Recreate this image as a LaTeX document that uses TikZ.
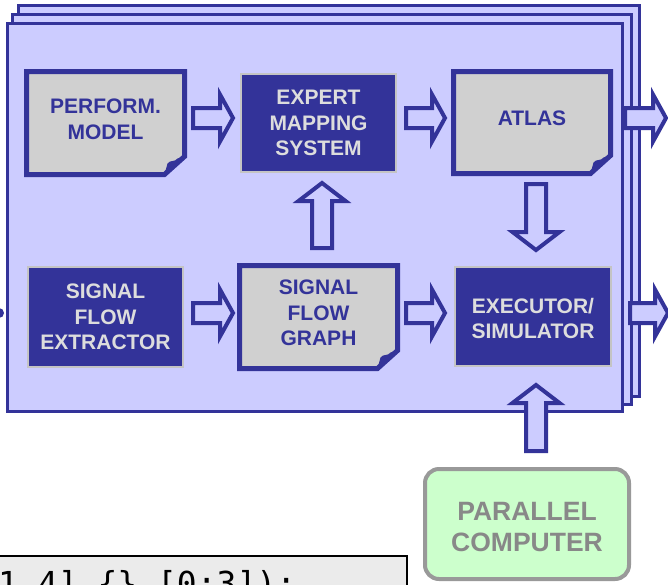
\documentclass[tikz,border=0pt]{standalone}
\usepackage{fontspec}
\setmainfont{Liberation Sans}
\newfontfamily\codefont{DejaVu Sans Mono}
\usetikzlibrary{calc}
\definecolor{dblue}{HTML}{333399}
\definecolor{lblue}{HTML}{CCCCFF}
\definecolor{docgray}{HTML}{D0D0D0}
\definecolor{boxgray}{HTML}{C4C4C4}
\definecolor{ltext}{HTML}{DDDDDD}
\definecolor{lgreen}{HTML}{CCFFCC}
\definecolor{pcgray}{HTML}{999999}
\definecolor{pctext}{HTML}{888888}
\definecolor{codegray}{HTML}{EBEBEB}
\newcommand{\docoutline}[1]{%
  \filldraw[fill=docgray,draw=dblue,line width=5,line join=miter]
    (#1.north west) -- (#1.north east) -- ($(#1.south east)+(0,-18)$)
    -- ($(#1.south east)+(-20,0)$) -- (#1.south west) -- cycle;
  \fill[dblue] ($(#1.south east)+(-20,0)$) -- ($(#1.south east)+(-17,-11)$)
    .. controls ($(#1.south east)+(-14,-15)$) and ($(#1.south east)+(-10,-12)$) .. ($(#1.south east)+(-7,-16)$)
    -- ($(#1.south east)+(0,-18)$) -- cycle;
}
\tikzset{
  frame/.style={fill=lblue,draw=dblue,line width=3},
  boxtext/.style={font=\fontsize{21}{25.5}\selectfont\bfseries,align=center,outer sep=0,inner sep=0},
  darkbox/.style={boxtext,fill=dblue,draw=boxgray,line width=2,text=ltext},
  docbox/.style={boxtext,draw=none,text=dblue},
  pcbox/.style={font=\fontsize{26.5}{31}\selectfont\bfseries,align=center,outer sep=0,inner sep=0,
    fill=lgreen,draw=pcgray,line width=4,rounded corners=14,text=pctext},
  pics/barrow/.style 2 args={code={
    \filldraw[fill=lblue,draw=dblue,line width=4,line join=miter]
      (0,-10) -- ({#1-#2},-10) -- ({#1-#2},-23.5) -- (#1,0) -- ({#1-#2},23.5)
      -- ({#1-#2},10) -- (0,10) -- cycle;
  }}
}
\begin{document}
\begin{tikzpicture}[x=1pt,y=-1pt]
\useasboundingbox (0,0) rectangle (668,584);
\clip (0,0) rectangle (668,584);
\fill[white] (0,0) rectangle (668,584);
% stacked frames
\draw[frame] (18.5,5.5) rectangle (639,396);
\draw[frame] (12.5,14.5) rectangle (631,404.5);
\draw[frame] (7.5,23) rectangle (622.5,411.5);
% incoming arrow tip at left edge
\fill[dblue] (-1,313) circle (5);
% boxes
\node[docbox,minimum width=158,minimum height=103] (pm) at (105.5,123) {PERFORM.\\MODEL\rule[-8pt]{0pt}{8pt}};
\node[darkbox,minimum width=155,minimum height=98] (ems) at (318.5,123) {EXPERT\\MAPPING\\SYSTEM};
\node[docbox,minimum width=157,minimum height=102] (atlas) at (532,122.5) {ATLAS\rule[-8pt]{0pt}{8pt}};
\node[darkbox,minimum width=155,minimum height=100] (sfe) at (105.5,317) {SIGNAL\\FLOW\\EXTRACTOR};
\node[docbox,minimum width=158,minimum height=103] (sfg) at (318.5,317) {SIGNAL\\FLOW\\GRAPH\rule[-8pt]{0pt}{8pt}};
\node[darkbox,minimum width=156,minimum height=99] (exe) at (533,316.5) {\rule{0pt}{19pt}EXECUTOR/\\SIMULATOR};
\node[pcbox,minimum width=204,minimum height=110] (pc) at (527,524) {\rule{0pt}{24pt}PARALLEL\\COMPUTER};
\docoutline{pm}
\docoutline{atlas}
\docoutline{sfg}
\node[docbox] at (pm) {PERFORM.\\MODEL\rule[-8pt]{0pt}{8pt}};
\node[docbox] at (atlas) {ATLAS\rule[-8pt]{0pt}{8pt}};
\node[docbox] at (sfg) {SIGNAL\\FLOW\\GRAPH\rule[-8pt]{0pt}{8pt}};
% block arrows
\pic at ($(pm.east)+(8.5,-5)$) {barrow={40}{13}};
\pic at ($(ems.east)+(10,-5)$) {barrow={39}{13}};
\pic at ($(sfe.east)+(10,-4)$) {barrow={40}{13}};
\pic at ($(sfg.east)+(8.5,-4)$) {barrow={39}{13}};
\pic[rotate=90] at ($(sfg.north)+(3.5,-17.5)$) {barrow={65}{18}};
\pic[rotate=-90] at ($(atlas.south)+(4,10.5)$) {barrow={66}{18}};
\pic[rotate=90] at ($(pc.north)+(9,-18)$) {barrow={66}{18}};
\pic at ($(atlas.east)+(14.5,-4.5)$) {barrow={41}{13}};
\pic at ($(exe.east)+(19,-3.5)$) {barrow={38}{13}};
% code box
\filldraw[fill=codegray,draw=black,line width=2] (-10,556) rectangle (407,610);
\node[anchor=base west,inner sep=0,font=\codefont\fontsize{33}{40}\selectfont] (code) at (-2,595) {1,4] \{\} [0:3]);};
\end{tikzpicture}
\end{document}
